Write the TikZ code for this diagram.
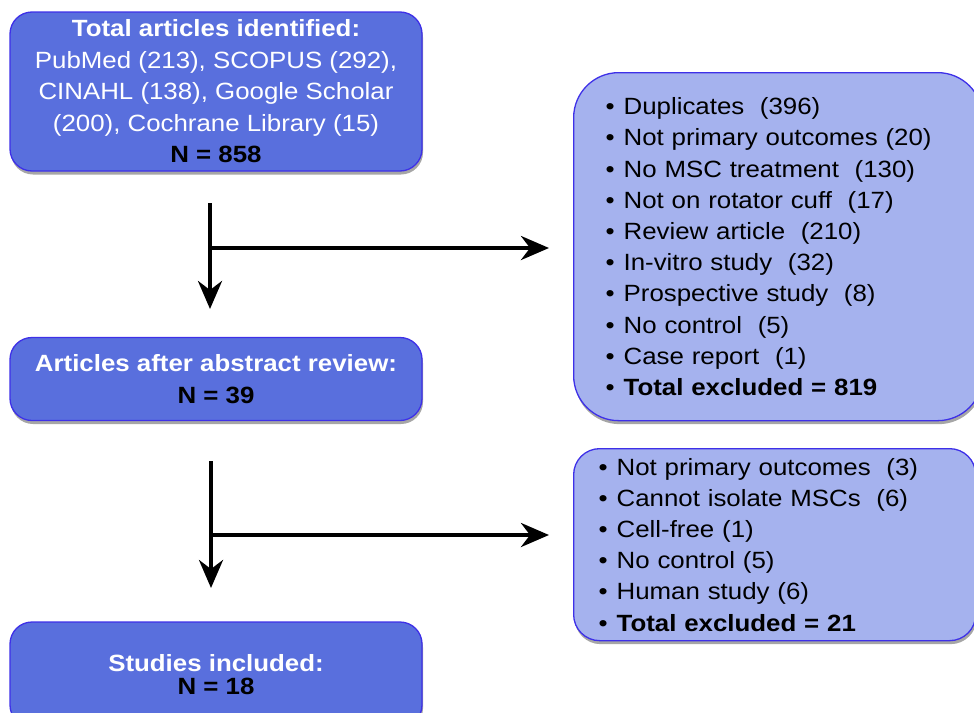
\documentclass[tikz,border=0pt]{standalone}
\usepackage{fontspec}
\setmainfont{Liberation Sans}[FakeStretch=1.1]
\usetikzlibrary{arrows.meta,shadows}
\definecolor{darkfill}{RGB}{89,111,221}
\definecolor{lightfill}{RGB}{165,178,238}
\definecolor{boxedge}{RGB}{62,48,232}
\newcommand{\bl}{\makebox[18pt][l]{•}}
\tikzset{
  shadowed/.style={drop shadow={shadow xshift=1pt,shadow yshift=-3.5pt,opacity=0.35,fill=black}},
  mainbox/.style={draw=boxedge,line width=1.3pt,fill=darkfill,rounded corners=22pt,
    minimum width=412pt,align=center,inner sep=0pt,shadowed,
    font=\fontsize{23.5}{31.5}\selectfont,text=white},
  sidebox/.style={draw=boxedge,line width=1.3pt,fill=lightfill,align=left,
    inner ysep=0pt,shadowed,font=\fontsize{23.5}{31.2}\selectfont,text=black,anchor=north west},
  flow/.style={line width=4pt,-{Stealth[length=28pt,width=24pt,inset=9pt]}},
}
\begin{document}
\begin{tikzpicture}[x=1pt,y=-1pt]
\useasboundingbox (0,0) rectangle (974,712);
\clip (0,0) rectangle (974,712);
\node[mainbox,minimum height=159pt] (total) at (216,91.5)
  {\textbf{Total articles identified:}\\
   PubMed (213), SCOPUS (292),\\
   CINAHL (138), Google Scholar\\
   (200), Cochrane Library (15)\\
   \textcolor{black}{\textbf{N = 858}}};
\node[mainbox,minimum height=83pt] (abstract) at (216,379)
  {\textbf{Articles after abstract review:}\\
   \textcolor{black}{\textbf{N = 39}}};
\node[mainbox,minimum height=105pt,font=\fontsize{23.5}{23.5}\selectfont] (included) at (216,674.5)
  {\textbf{Studies included:}\\
   \textcolor{black}{\textbf{N = 18}}};
\node[sidebox,rounded corners=45pt,minimum height=348pt,text width=345pt,inner xsep=32pt] (excl1) at (573,72)
  {\bl Duplicates\ \ (396)\\
   \bl Not primary outcomes (20)\\
   \bl No MSC treatment\ \ (130)\\
   \bl Not on rotator cuff\ \ (17)\\
   \bl Review article\ \ (210)\\
   \bl In-vitro study\ \ (32)\\
   \bl Prospective study\ \ (8)\\
   \bl No control\ \ (5)\\
   \bl Case report\ \ (1)\\
   \bl \textbf{Total excluded = 819}};
\node[sidebox,rounded corners=26pt,minimum height=192pt,text width=352pt,inner xsep=25pt] (excl2) at (573,448)
  {\bl Not primary outcomes\ \ (3)\\
   \bl Cannot isolate MSCs\ \ (6)\\
   \bl Cell-free (1)\\
   \bl No control (5)\\
   \bl Human study (6)\\
   \bl \textbf{Total excluded = 21}};
\coordinate (s1) at (210,203);
\coordinate (e1) at (210,309);
\coordinate (j1) at (210,248);
\coordinate (h1) at (549,248);
\coordinate (s2) at (211,461);
\coordinate (e2) at (211,588);
\coordinate (j2) at (211,535);
\coordinate (h2) at (549,535);
\draw[flow] (s1) -- (e1);
\draw[flow] (j1) -- (h1);
\draw[flow] (s2) -- (e2);
\draw[flow] (j2) -- (h2);
\end{tikzpicture}
\end{document}
